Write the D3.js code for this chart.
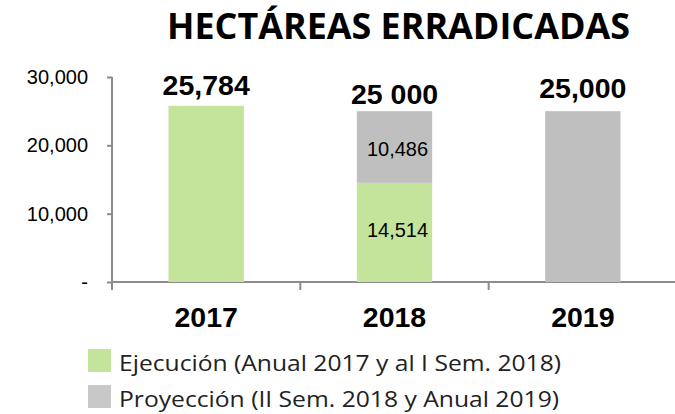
<!DOCTYPE html>
<html>
<head>
<meta charset="utf-8">
<script src="https://cdn.jsdelivr.net/npm/d3@7"></script>
<style>
  body { margin: 0; background: white; }
</style>
</head>
<body>
<div id="vis"></div>
<script>
// chart data
const years = ["2017", "2018", "2019"];
const ejecucion = [25784, 14514, 0];
const proyeccion = [0, 10486, 25000];
const totalLabels = ["25,784", "25 000", "25,000"];
const yTicks = [0, 10000, 20000, 30000];
const legendLabels = ["Ejecución (Anual 2017 y al I Sem. 2018)", "Proyección (II Sem. 2018 y Anual 2019)"];

let width = 675;
let height = 414;
let margin = { top: 77, bottom: 132, left: 112, right: -2 };

let green = "#c4e49b";
let grey = "#bfbfbf";
let axisColor = "#8c8c8c";
let arial = "Arial, 'Liberation Sans', sans-serif";

let svg = d3.select("#vis")
  .append("svg")
  .attr("width", width)
  .attr("height", height)
  .style("background", "white");

// scales
let yScale = d3.scaleLinear()
  .domain([0, 30000])
  .range([height - margin.bottom, margin.top]);

let xScale = d3.scaleBand()
  .domain(years)
  .range([margin.left, width - margin.right])
  .paddingInner(0.6)
  .paddingOuter(0.3);

let step = xScale.step();
let base = yScale(0);

// title
svg.append("text")
  .attr("x", 167)
  .attr("y", 39)
  .attr("textLength", 463)
  .attr("lengthAdjust", "spacingAndGlyphs")
  .style("font-family", "'Open Sans', sans-serif")
  .style("font-weight", "bold")
  .style("font-size", "35px")
  .text("HECTÁREAS ERRADICADAS");

// y axis
let yAxis = svg.append("g")
  .attr("transform", `translate(${margin.left}, 0)`)
  .call(d3.axisLeft(yScale)
    .tickValues(yTicks)
    .tickSize(5)
    .tickFormat(d => d === 0 ? "-" : d3.format(",")(d)));
yAxis.select(".domain").remove();
yAxis.selectAll("line").attr("stroke", axisColor).attr("stroke-width", 2);
yAxis.selectAll("text")
  .attr("x", -24)
  .style("font-family", arial)
  .style("font-size", "20px")
  .attr("fill", "#000");

svg.append("line")
  .attr("x1", margin.left).attr("x2", margin.left)
  .attr("y1", yScale(30000)).attr("y2", base + 8)
  .attr("stroke", axisColor).attr("stroke-width", 2);

// x axis baseline and category separators
svg.append("line")
  .attr("x1", margin.left).attr("x2", width)
  .attr("y1", base).attr("y2", base)
  .attr("stroke", axisColor).attr("stroke-width", 2);

svg.selectAll(".sep")
  .data(years.slice(1))
  .enter()
  .append("line")
  .attr("x1", d => xScale(d) - (step - xScale.bandwidth()) / 2)
  .attr("x2", d => xScale(d) - (step - xScale.bandwidth()) / 2)
  .attr("y1", base).attr("y2", base + 8)
  .attr("stroke", axisColor).attr("stroke-width", 2);

// bars
svg.selectAll(".bar-eje")
  .data(years)
  .enter()
  .append("rect")
  .attr("x", d => xScale(d))
  .attr("y", (d, i) => yScale(ejecucion[i]))
  .attr("width", xScale.bandwidth())
  .attr("height", (d, i) => base - yScale(ejecucion[i]))
  .attr("fill", green);

svg.selectAll(".bar-pro")
  .data(years)
  .enter()
  .append("rect")
  .attr("x", d => xScale(d))
  .attr("y", (d, i) => yScale(ejecucion[i] + proyeccion[i]))
  .attr("width", xScale.bandwidth())
  .attr("height", (d, i) => base - yScale(proyeccion[i]))
  .attr("fill", grey);

// total labels
let labelGap = [11, 7, 13];
svg.selectAll(".total")
  .data(years)
  .enter()
  .append("text")
  .attr("x", d => xScale(d) + xScale.bandwidth() / 2)
  .attr("y", (d, i) => yScale(ejecucion[i] + proyeccion[i]) - labelGap[i])
  .attr("text-anchor", "middle")
  .style("font-family", arial)
  .style("font-weight", "bold")
  .style("font-size", "28.5px")
  .text((d, i) => totalLabels[i]);

// inner labels for 2018
let i18 = years.indexOf("2018");
let fmt = d3.format(",");
svg.append("text")
  .attr("x", xScale("2018") + xScale.bandwidth() / 2 + 3)
  .attr("y", yScale(ejecucion[i18] + proyeccion[i18] / 2) + 9)
  .attr("text-anchor", "middle")
  .style("font-family", arial)
  .style("font-size", "20px")
  .text(fmt(proyeccion[i18]));

svg.append("text")
  .attr("x", xScale("2018") + xScale.bandwidth() / 2 + 3)
  .attr("y", yScale(ejecucion[i18] / 2) + 5)
  .attr("text-anchor", "middle")
  .style("font-family", arial)
  .style("font-size", "20px")
  .text(fmt(ejecucion[i18]));

// x labels
svg.selectAll(".xlabel")
  .data(years)
  .enter()
  .append("text")
  .attr("x", d => xScale(d) + xScale.bandwidth() / 2)
  .attr("y", base + 45)
  .attr("text-anchor", "middle")
  .style("font-family", arial)
  .style("font-weight", "bold")
  .style("font-size", "28.5px")
  .text(d => d);

// legend
let legendWidths = [442, 440];
let legend = svg.selectAll(".legend")
  .data(legendLabels)
  .enter()
  .append("g")
  .attr("transform", (d, i) => `translate(88, ${349 + i * 36})`);

legend.append("rect")
  .attr("width", 23)
  .attr("height", 23)
  .attr("fill", (d, i) => i === 0 ? green : "#c8c8c8");

legend.append("text")
  .attr("x", 31)
  .attr("y", 22)
  .attr("textLength", (d, i) => legendWidths[i])
  .attr("lengthAdjust", "spacingAndGlyphs")
  .style("font-family", "'Open Sans', sans-serif")
  .style("font-size", "21px")
  .attr("fill", "#222")
  .text(d => d);
</script>
</body>
</html>
